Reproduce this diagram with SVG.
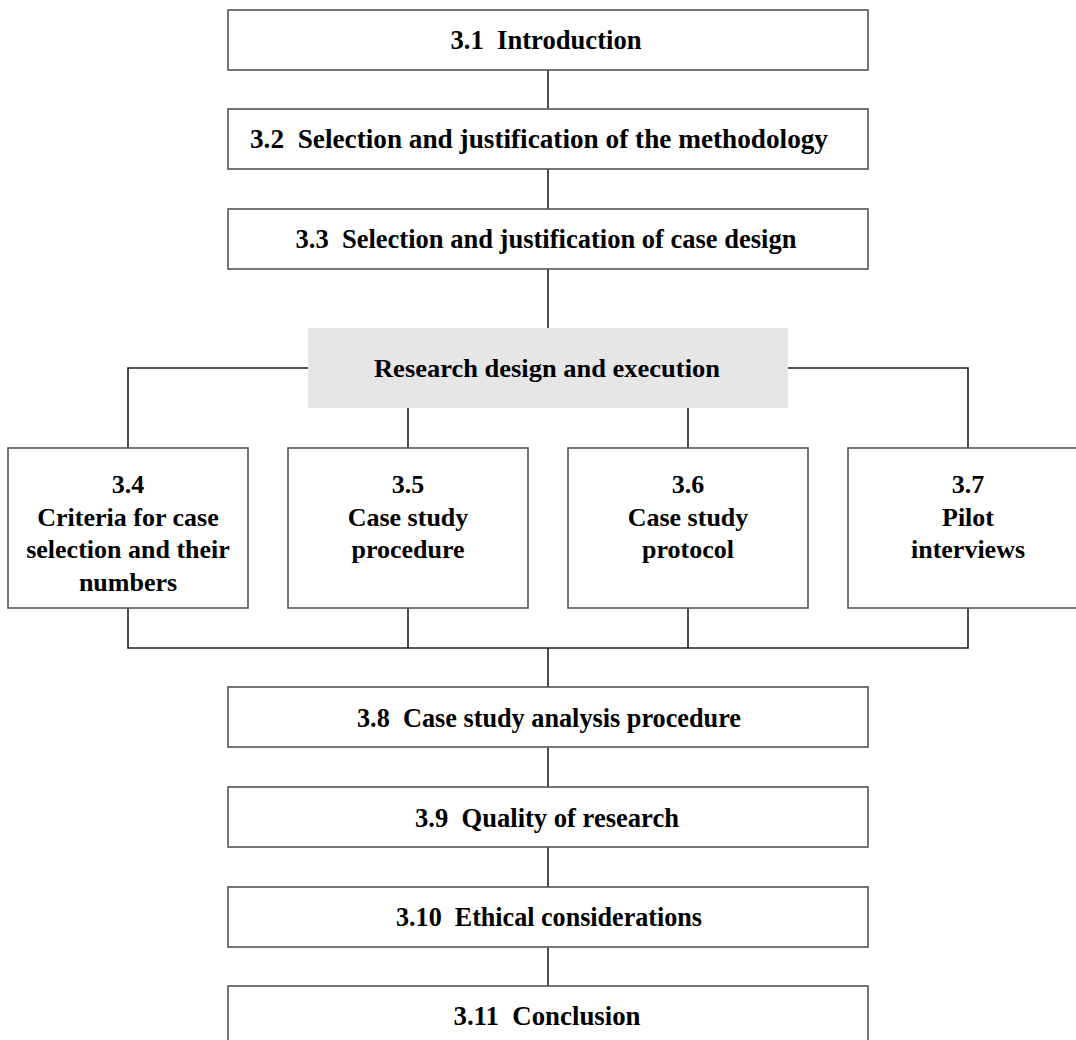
<svg xmlns="http://www.w3.org/2000/svg" width="1076" height="1040" viewBox="0 0 1076 1040">
<style>
.box{fill:#fff;stroke:#555;stroke-width:1.6}
.gray{fill:#e6e6e6;stroke:none}
.t{font-family:"Liberation Serif","Times New Roman",serif;font-weight:bold;font-size:26px;fill:#000;text-anchor:middle;white-space:pre}
.w{font-size:28px}
.c{fill:none;stroke:#222;stroke-width:1.6}
</style>
<rect width="1076" height="1040" fill="#fff"/>
<g id="connectors">
<path class="c" d="M548 70V109M548 169V209M548 269V328"/>
<path class="c" d="M308 368H128V448M788 368H968V448M408 407V448M688 407V448"/>
<path class="c" d="M128 608V648H968V608M408 608V648M688 608V648M548 648V687"/>
<path class="c" d="M548 747V787M548 847V887M548 947V986"/>
</g>
<g id="n31"><rect class="box" x="228" y="10" width="640" height="60"/><text class="t w" x="546" y="49" textLength="191" lengthAdjust="spacingAndGlyphs">3.1  Introduction</text></g>
<g id="n32"><rect class="box" x="228" y="109" width="640" height="60"/><text class="t w" x="539" y="148" textLength="578" lengthAdjust="spacingAndGlyphs">3.2  Selection and justification of the methodology</text></g>
<g id="n33"><rect class="box" x="228" y="209" width="640" height="60"/><text class="t w" x="546" y="248" textLength="501" lengthAdjust="spacingAndGlyphs">3.3  Selection and justification of case design</text></g>
<g id="rde"><rect class="gray" x="308" y="328" width="480" height="80"/><text class="t" x="547" y="377" textLength="346" lengthAdjust="spacingAndGlyphs">Research design and execution</text></g>
<g id="n34"><rect class="box" x="8" y="448" width="240" height="160"/><text class="t" x="128" y="493">3.4<tspan x="128" dy="32.5">Criteria for case</tspan><tspan x="128" dy="32.5">selection and their</tspan><tspan x="128" dy="32.5">numbers</tspan></text></g>
<g id="n35"><rect class="box" x="288" y="448" width="240" height="160"/><text class="t" x="408" y="493">3.5<tspan x="408" dy="32.5">Case study</tspan><tspan x="408" dy="32.5">procedure</tspan></text></g>
<g id="n36"><rect class="box" x="568" y="448" width="240" height="160"/><text class="t" x="688" y="493">3.6<tspan x="688" dy="32.5">Case study</tspan><tspan x="688" dy="32.5">protocol</tspan></text></g>
<g id="n37"><rect class="box" x="848" y="448" width="240" height="160"/><text class="t" x="968" y="493">3.7<tspan x="968" dy="32.5">Pilot</tspan><tspan x="968" dy="32.5">interviews</tspan></text></g>
<g id="n38"><rect class="box" x="228" y="687" width="640" height="60"/><text class="t w" x="549" y="727" textLength="384" lengthAdjust="spacingAndGlyphs">3.8  Case study analysis procedure</text></g>
<g id="n39"><rect class="box" x="228" y="787" width="640" height="60"/><text class="t w" x="547" y="827" textLength="264" lengthAdjust="spacingAndGlyphs">3.9  Quality of research</text></g>
<g id="n310"><rect class="box" x="228" y="887" width="640" height="60"/><text class="t w" x="549" y="926" textLength="306" lengthAdjust="spacingAndGlyphs">3.10  Ethical considerations</text></g>
<g id="n311"><rect class="box" x="228" y="986" width="640" height="60"/><text class="t w" x="547" y="1025" textLength="187" lengthAdjust="spacingAndGlyphs">3.11  Conclusion</text></g>
</svg>
